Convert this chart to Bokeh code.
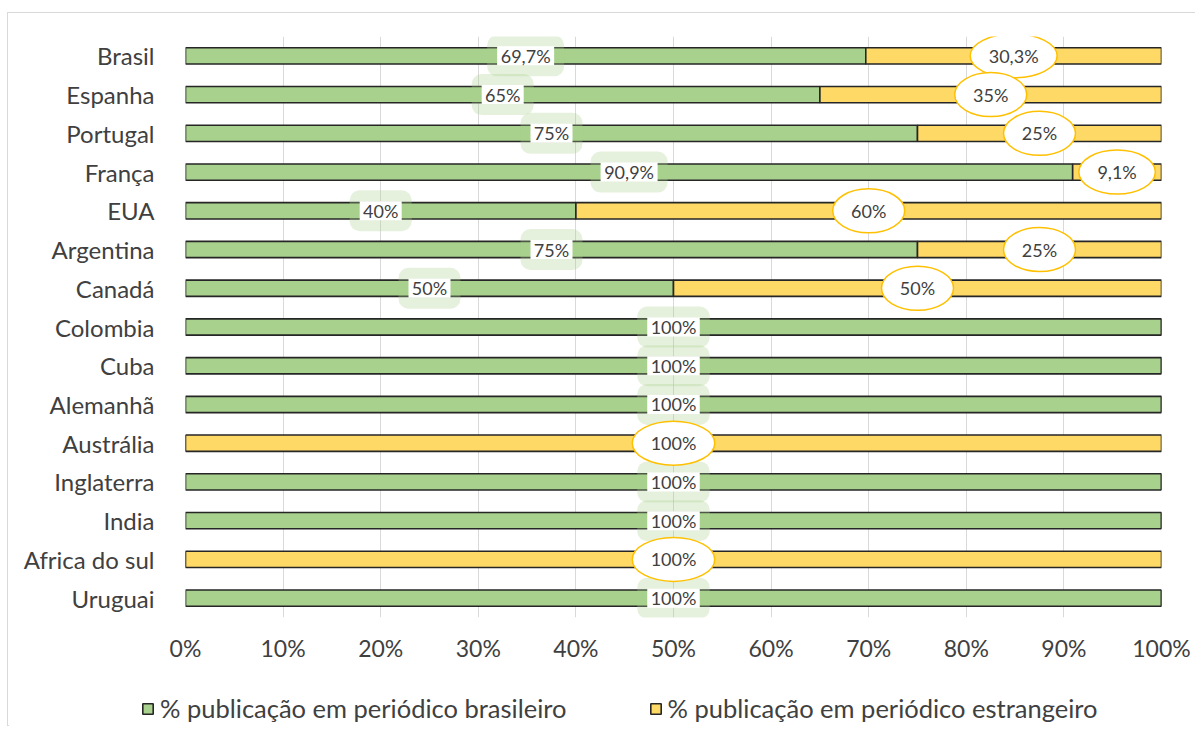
from bokeh.plotting import figure
from bokeh.models import ColumnDataSource, FactorRange, Range1d, FixedTicker, Legend, LegendItem
from bokeh.layouts import column, row
from bokeh.embed import file_html
from bokeh.resources import INLINE

countries = ["Brasil", "Espanha", "Portugal", "França", "EUA", "Argentina", "Canadá",
             "Colombia", "Cuba", "Alemanhã", "Austrália", "Inglaterra", "India",
             "Africa do sul", "Uruguai"]
brasileiro = [69.7, 65, 75, 90.9, 40, 75, 50, 100, 100, 100, 0, 100, 100, 0, 100]
estrangeiro = [30.3, 35, 25, 9.1, 60, 25, 50, 0, 0, 0, 100, 0, 0, 100, 0]
tick_values = [0, 10, 20, 30, 40, 50, 60, 70, 80, 90, 100]
tick_labels = ["0%", "10%", "20%", "30%", "40%", "50%", "60%", "70%", "80%", "90%", "100%"]
series_names = ["% publicação em periódico brasileiro", "% publicação em periódico estrangeiro"]

GREEN = "#A9D18E"
YELLOW = "#FFD966"
FONT = "Lato"
TXT = "#404040"

def fmt(v):
    return ("%g" % v).replace(".", ",") + "%"

def text_w(s):
    w = 0
    for ch in s:
        if ch.isdigit():
            w += 10.5
        elif ch == ",":
            w += 4.5
        else:
            w += 15
    return w

src = ColumnDataSource(dict(country=countries, bras=brasileiro, estr=estrangeiro))

p = figure(width=1187, height=677, output_backend="svg", toolbar_location=None,
           y_range=FactorRange(*list(reversed(countries)), range_padding=0),
           x_range=Range1d(0, 100))
p.min_border_left = 177
p.min_border_right = 34
p.min_border_top = 23
p.min_border_bottom = 73
p.outline_line_color = None
p.background_fill_color = "white"
p.border_fill_color = "white"

rs = p.hbar_stack(["bras", "estr"], y="country", height=0.42, source=src,
                  color=[GREEN, YELLOW], line_color="#262626", line_width=1.6)

g = dict(x=[], y=[], t=[], gw=[], bw=[])
e = dict(x=[], y=[], t=[], ew=[])
for c, b, s in zip(countries, brasileiro, estrangeiro):
    if b > 0:
        t = fmt(b)
        g["x"].append(b / 2); g["y"].append(c); g["t"].append(t)
        g["gw"].append(text_w(t) + 26); g["bw"].append(text_w(t) + 6)
    if s > 0:
        t = fmt(s)
        e["x"].append(b + s / 2); e["y"].append(c); e["t"].append(t)
        e["ew"].append(text_w(t) + 36)
gsrc = ColumnDataSource(g)
esrc = ColumnDataSource(e)

p.rect(x="x", y="y", width="gw", height=41, width_units="screen", height_units="screen",
       source=gsrc, fill_color=GREEN, fill_alpha=0.3, line_color=None, border_radius=10)
p.rect(x="x", y="y", width="bw", height=19, width_units="screen", height_units="screen",
       source=gsrc, fill_color="white", line_color=None)
p.text(x="x", y="y", text="t", source=gsrc, text_align="center", text_baseline="middle",
       text_font=dict(value=FONT), text_font_size="18px", text_color=TXT)

p.ellipse(x="x", y="y", width="ew", height=44, width_units="screen", height_units="screen",
          source=esrc, fill_color="white", line_color="#FFC000", line_width=1.5)
p.text(x="x", y="y", text="t", source=esrc, text_align="center", text_baseline="middle",
       text_font=dict(value=FONT), text_font_size="18px", text_color=TXT)

p.xaxis.ticker = FixedTicker(ticks=tick_values)
p.xaxis.major_label_overrides = {v: l for v, l in zip(tick_values, tick_labels)}
p.xaxis.axis_line_color = None
p.xaxis.major_tick_line_color = None
p.xaxis.minor_tick_line_color = None
p.xaxis.major_label_standoff = 10
p.xaxis.major_label_text_font = FONT
p.xaxis.major_label_text_font_size = "23px"
p.xaxis.major_label_text_color = TXT

p.yaxis.axis_line_color = None
p.yaxis.major_tick_line_color = None
p.yaxis.major_label_standoff = 25
p.yaxis.major_label_text_font = FONT
p.yaxis.major_label_text_font_size = "24px"
p.yaxis.major_label_text_color = TXT

p.xgrid.grid_line_color = "#D9D9D9"
p.ygrid.grid_line_color = None

# legend strip
lf = figure(width=1187, height=36, output_backend="svg", toolbar_location=None,
            x_range=Range1d(0, 1), y_range=Range1d(0, 1),
            x_axis_type=None, y_axis_type=None)
lf.min_border_left = 0
lf.min_border_right = 0
lf.min_border_top = 0
lf.min_border_bottom = 0
lf.grid.visible = False
lf.outline_line_color = None
lf.border_fill_color = "white"
lr = [lf.hbar(y=[-10], left=[-10], right=[-9], height=0.5, fill_color=col,
              line_color="#262626", line_width=1.6) for col in (GREEN, YELLOW)]
legend = Legend(items=[LegendItem(label=series_names[0], renderers=[lr[0]]),
                       LegendItem(label=series_names[1], renderers=[lr[1]])],
                orientation="horizontal", location=(133, 3),
                glyph_width=13, glyph_height=13, label_standoff=6, spacing=82,
                padding=0, margin=0, border_line_color=None, background_fill_alpha=0,
                label_text_font=FONT, label_text_font_size="25.5px", label_text_color=TXT)
lf.add_layout(legend, "center")

layout = column(p, row(lf), spacing=0, margin=(12, 0, 0, 7),
                styles={"border-top": "1px solid #D9D9D9", "border-left": "1px solid #D9D9D9"})
open("out.html", "w").write(file_html(layout, INLINE))
